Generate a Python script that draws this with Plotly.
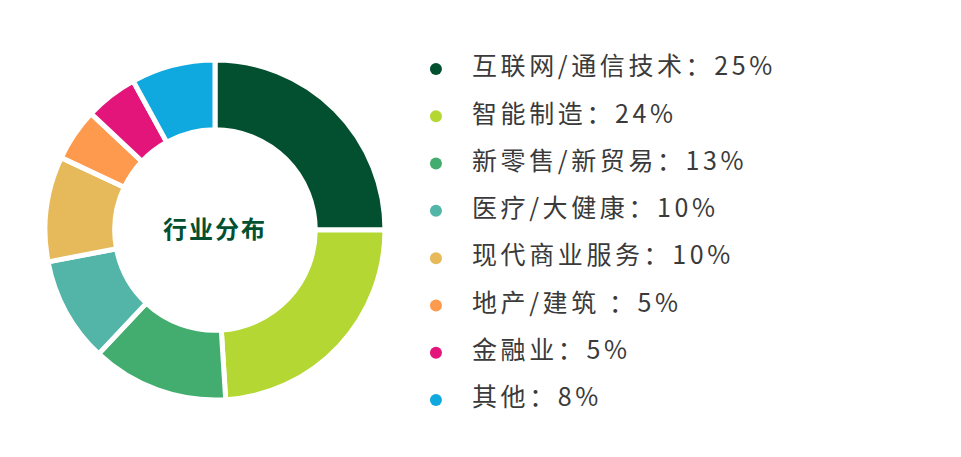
import plotly.graph_objects as go

categories = ["互联网/通信技术", "智能制造", "新零售/新贸易", "医疗/大健康",
              "现代商业服务", "地产/建筑 ", "金融业", "其他"]
shares = [25, 24, 13, 10, 10, 5, 5, 8]
colors = ["#02502F", "#B5D733", "#42AD6E", "#52B5A7",
          "#E6BA5A", "#FE9A4E", "#E4157A", "#0FA9E0"]
center_label = "行业分布"

fig = go.Figure()

fig.add_trace(go.Pie(
    labels=categories, values=shares, sort=False, direction="clockwise",
    hole=0.59, textinfo="none", showlegend=False,
    marker=dict(colors=colors, line=dict(color="white", width=5)),
    domain=dict(x=[0.0392, 0.3989], y=[0.1111, 0.8821]),
))

# legend drawn as a scatter column on the right
legend_text = [f'<span style="letter-spacing:3.6px">{c}：{v}%</span>'
               for c, v in zip(categories, shares)]
fig.add_trace(go.Scatter(
    x=[0] * len(categories), y=categories, mode="markers",
    marker=dict(color=colors, size=12), showlegend=False, hoverinfo="skip",
))
fig.add_trace(go.Scatter(
    x=[0.835] * len(categories), y=categories, mode="text", text=legend_text,
    textposition="middle right", showlegend=False, hoverinfo="skip",
    textfont=dict(family="Noto Sans CJK SC", size=25, color="#3a3a3a"),
))

# page body has an 8px margin, so the figure is a bit smaller than the window
fig.update_layout(
    width=945, height=441, margin=dict(l=0, r=0, t=0, b=0),
    paper_bgcolor="white", plot_bgcolor="white",
    xaxis=dict(domain=[0.43, 1], range=[-0.5, 11.97], visible=False),
    yaxis=dict(domain=[0.0575, 0.9153], type="category", range=[7.5, -0.5], visible=False),
    annotations=[dict(
        text=f'<b><span style="letter-spacing:2px">{center_label}</span></b>',
        x=0.2190, y=0.5023, xref="paper", yref="paper", xanchor="center", yanchor="middle",
        showarrow=False, font=dict(family="Noto Sans CJK SC", size=24, color="#02502F"),
    )],
)

fig.write_html("out.html")
